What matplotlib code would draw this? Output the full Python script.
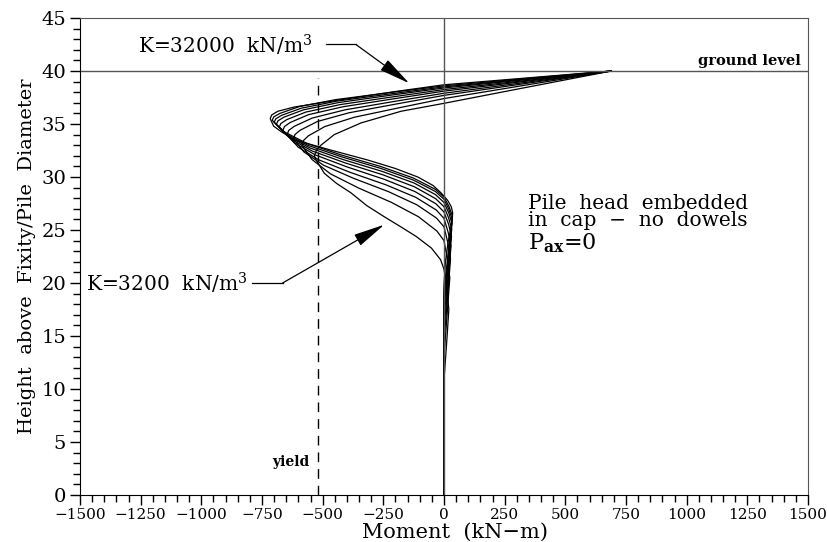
import matplotlib
matplotlib.use("Agg")
import matplotlib.pyplot as plt
from matplotlib.ticker import MultipleLocator

# Moment profiles, one curve per subgrade modulus K (kN/m3), soft -> stiff
k_values = [3200, 6400, 9600, 12800, 16000, 19200, 22400, 25600, 28800, 32000]

h_k3200 = [40, 38.48, 36.95, 36.2, 35.1, 34.0, 33.0, 32.5, 32.0, 31.6, 30.35, 29.4, 28.5, 27.3, 26.25, 25.3, 24.4, 23.3, 22.2, 21.3, 19.5, 17.5, 15.0, 10.8, 0]
m_k3200 = [690, 345, 0, -177, -342, -452, -507, -526, -534, -527, -493, -443, -383, -318, -246, -178, -115, -52, -14, 0, 12, 20, 13, 0, 0]

h_k6400 = [40, 38.7, 37.4, 36.52, 35.64, 34.76, 33.88, 33.44, 33.0, 31.65, 30.3, 28.95, 27.6, 26.25, 24.9, 24.0, 22.25, 20.5, 16.75, 13.0, 0]
m_k6400 = [690, 345, 0, -187, -369, -491, -559, -579, -585, -544, -468, -351, -216, -105, -29, 0, 14, 24, 12, 0, 0]

h_k9600 = [40, 38.85, 37.7, 36.88, 36.06, 35.24, 34.42, 34.01, 33.6, 32.36, 31.11, 29.87, 28.62, 27.38, 26.13, 25.3, 23.8, 22.3, 18.4, 14.5, 0]
m_k9600 = [690, 345, 0, -198, -391, -521, -592, -614, -620, -577, -496, -372, -229, -112, -31, 0, 16, 27, 14, 0, 0]

h_k12800 = [40, 38.95, 37.9, 37.12, 36.34, 35.56, 34.78, 34.39, 34.0, 32.82, 31.63, 30.45, 29.26, 28.08, 26.89, 26.1, 24.8, 23.5, 19.5, 15.5, 0]
m_k12800 = [690, 345, 0, -207, -407, -543, -617, -640, -646, -601, -517, -388, -239, -116, -32, 0, 17, 29, 15, 0, 0]

h_k16000 = [40, 39.05, 38.1, 37.36, 36.62, 35.88, 35.14, 34.77, 34.4, 33.25, 32.09, 30.94, 29.78, 28.63, 27.47, 26.7, 25.55, 24.4, 20.45, 16.5, 0]
m_k16000 = [690, 345, 0, -212, -418, -558, -634, -657, -664, -618, -531, -398, -246, -120, -33, 0, 19, 31, 16, 0, 0]

h_k19200 = [40, 39.12, 38.25, 37.54, 36.83, 36.12, 35.41, 35.05, 34.7, 33.58, 32.45, 31.33, 30.2, 29.08, 27.95, 27.2, 26.15, 25.1, 21.2, 17.3, 0]
m_k19200 = [690, 345, 0, -217, -428, -570, -648, -672, -679, -631, -543, -407, -251, -122, -34, 0, 19, 32, 16, 0, 0]

h_k22400 = [40, 39.2, 38.4, 37.71, 37.02, 36.33, 35.64, 35.3, 34.95, 33.85, 32.75, 31.64, 30.54, 29.44, 28.34, 27.6, 26.6, 25.6, 21.8, 18.0, 0]
m_k22400 = [690, 345, 0, -221, -435, -580, -660, -684, -691, -643, -553, -415, -256, -124, -35, 0, 20, 33, 17, 0, 0]

h_k25600 = [40, 39.25, 38.5, 37.83, 37.16, 36.49, 35.82, 35.49, 35.15, 34.06, 32.98, 31.89, 30.8, 29.71, 28.63, 27.9, 26.95, 26.0, 22.3, 18.6, 0]
m_k25600 = [690, 345, 0, -224, -441, -588, -669, -693, -700, -651, -560, -420, -259, -126, -35, 0, 20, 34, 17, 0, 0]

h_k28800 = [40, 39.3, 38.6, 37.95, 37.3, 36.65, 36.0, 35.68, 35.35, 34.26, 33.18, 32.09, 31.0, 29.91, 28.83, 28.1, 27.2, 26.3, 22.75, 19.2, 0]
m_k28800 = [690, 345, 0, -227, -446, -595, -676, -701, -708, -658, -566, -425, -262, -127, -35, 0, 21, 35, 17, 0, 0]

h_k32000 = [40, 39.35, 38.7, 38.05, 37.1, 36.6, 36.2, 35.85, 35.5, 34.8, 34.3, 33.5, 32.5, 31.6, 30.8, 30.0, 29.2, 28.5, 27.8, 27.2, 26.6, 25.5, 24.0, 22.0, 19.8, 0]
m_k32000 = [690, 345, 0, -205, -479, -617, -685, -710, -716, -702, -672, -617, -460, -314, -200, -108, -45, -12, 15, 30, 36, 31, 18, 6, 0, 0]

heights = [h_k3200, h_k6400, h_k9600, h_k12800, h_k16000,
           h_k19200, h_k22400, h_k25600, h_k28800, h_k32000]
moments = [m_k3200, m_k6400, m_k9600, m_k12800, m_k16000,
           m_k19200, m_k22400, m_k25600, m_k28800, m_k32000]

ground_level = 40
yield_moment = -520
yield_top = 39.3

plt.rcParams['font.family'] = ['DejaVu Serif']
plt.rcParams['mathtext.fontset'] = 'dejavuserif'

fig = plt.figure(figsize=(8.27, 5.42), dpi=100)
ax = fig.add_axes([0.0967, 0.0867, 0.8803, 0.8801])

for h, m in zip(heights, moments):
    ax.plot(m, h, color='black', lw=0.9)

ax.axhline(ground_level, color='#555555', lw=1)
ax.axvline(0, color='#555555', lw=1)
ax.plot([yield_moment, yield_moment], [0, yield_top], color='black', lw=1,
        linestyle=(0, (7, 5)))

ax.set_xlim(-1500, 1500)
ax.set_ylim(0, 45)
ax.xaxis.set_major_locator(MultipleLocator(250))
ax.xaxis.set_minor_locator(MultipleLocator(50))
ax.yaxis.set_major_locator(MultipleLocator(5))
ax.yaxis.set_minor_locator(MultipleLocator(1))
ax.tick_params(which='major', direction='out', length=7, width=1)
ax.tick_params(which='minor', direction='out', length=5, width=1)
ax.tick_params(axis='x', labelsize=11, pad=2)
ax.tick_params(axis='y', labelsize=14, pad=3)
ax.tick_params(top=False, right=False, which='both')
for side in ['top', 'right']:
    ax.spines[side].set_color('#555555')

ax.set_xlabel('Moment  (kN\u2212m)', fontsize=15, labelpad=0)
ax.xaxis.set_label_coords(0.515, -0.058)
ax.set_ylabel('Height  above  Fixity/Pile  Diameter', fontsize=14, labelpad=4)

# labels for the stiffest and softest curves
ax.text(-1261, 42.4, 'K=32000  kN/m$^3$', fontsize=14.5, va='center')
ax.plot([-486, -363], [42.5, 42.5], color='black', lw=0.9)
ax.annotate('', xy=(-143, 38.84), xytext=(-363, 42.5),
            arrowprops=dict(arrowstyle='-|>,head_length=1.5,head_width=0.3',
                            color='black', lw=0.9, mutation_scale=13,
                            shrinkA=0, shrinkB=0))

ax.text(-1475, 20.0, 'K=3200  kN/m$^3$', fontsize=14.5, va='center')
ax.plot([-792, -665], [20.0, 20.0], color='black', lw=0.9)
ax.annotate('', xy=(-246, 25.5), xytext=(-665, 20.0),
            arrowprops=dict(arrowstyle='-|>,head_length=1.5,head_width=0.3',
                            color='black', lw=0.9, mutation_scale=13,
                            shrinkA=0, shrinkB=0))

ax.text(1471, 40.3, 'ground level', fontsize=10.5, fontweight='bold',
        ha='right', va='bottom')
ax.text(-556, 3.1, 'yield', fontsize=10, fontweight='bold',
        ha='right', va='center')

ax.text(346, 27.5, 'Pile  head  embedded', fontsize=14.5, va='center')
ax.text(346, 25.85, 'in  cap  \u2212  no  dowels', fontsize=14.5, va='center')
ax.text(346, 23.8, 'P$_{\\mathbf{ax}}$=0', fontsize=16, va='center')

fig.savefig('out.png', dpi=100)
